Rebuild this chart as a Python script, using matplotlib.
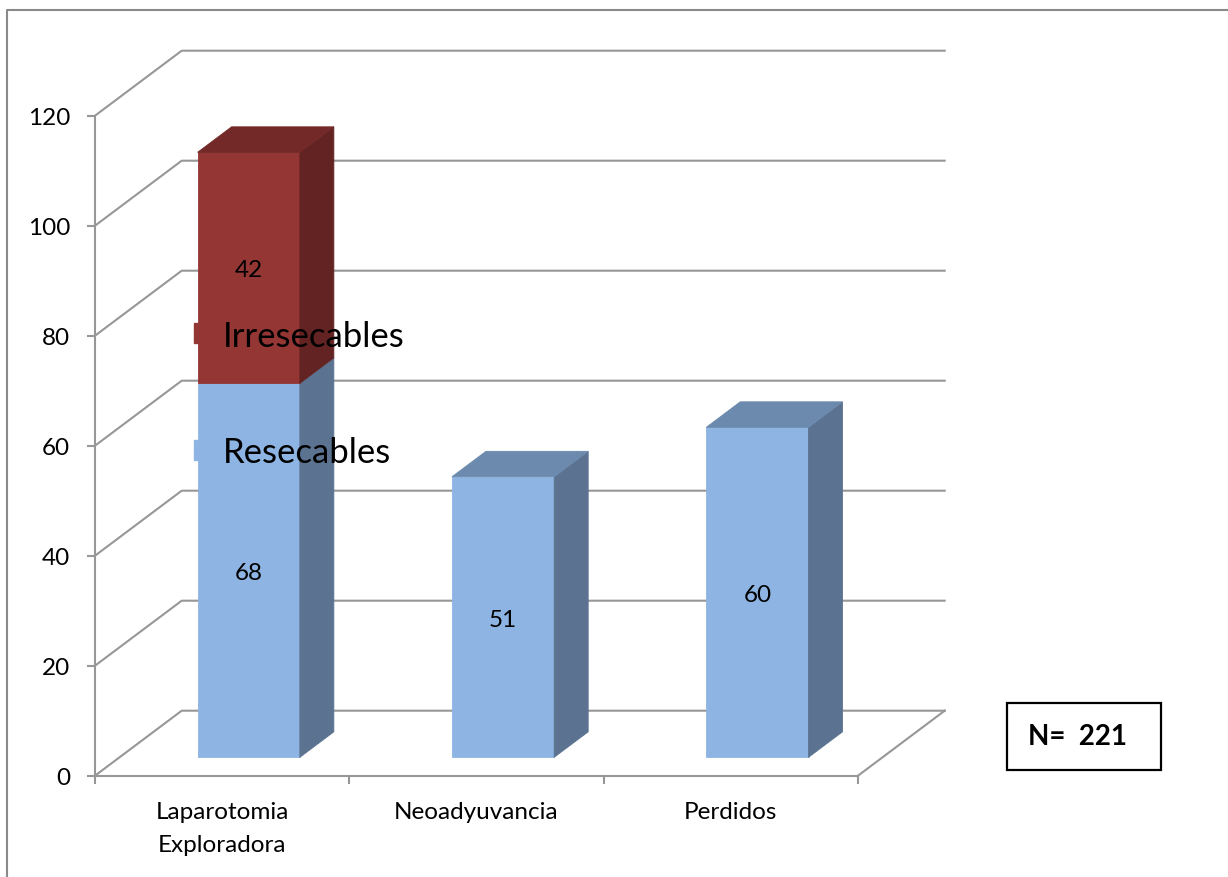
import matplotlib
matplotlib.use("Agg")
import matplotlib.pyplot as plt
from matplotlib.patches import Polygon, Rectangle
from matplotlib.lines import Line2D

# ---- data ----
categories = ["Laparotomia\nExploradora", "Neoadyuvancia", "Perdidos"]
series_names = ["Resecables", "Irresecables"]
resecables = [68, 51, 60]
irresecables = [42, 0, 0]
y_ticks = [0, 20, 40, 60, 80, 100, 120]
n_total = 221

# ---- style ----
plt.rcParams["font.family"] = ["Lato", "DejaVu Sans"]
GRID = "#979797"
FRONT = {"Resecables": "#8DB4E2", "Irresecables": "#943634"}
SIDE = {"Resecables": "#5B7391", "Irresecables": "#632323"}
TOP = {"Resecables": "#6C8AAE", "Irresecables": "#732927"}
LABEL_SIZE = 17.5

W, H = 1228, 878
fig = plt.figure(figsize=(W / 100, H / 100), dpi=100)
ax = fig.add_axes([95 / W, 1 - 776.7 / H, 763 / W, 660 / H])
ax.set_xlim(0, len(categories))
ax.set_ylim(y_ticks[0], y_ticks[-1])
ax.patch.set_visible(False)

# oblique projection for the depth direction (d in 0..1)
DX = 86.7 / 254.33
DV = 65 / 5.5


def proj(x, v, d):
    return x + DX * d, v + DV * d


def face(pts, color, z):
    ax.add_patch(Polygon([proj(*p) for p in pts], closed=True, facecolor=color,
                         edgecolor=color, lw=0.6, clip_on=False, zorder=z))


# walls: left-wall diagonals and back-wall gridlines
for v in y_ticks:
    xs, ys = zip(proj(0, v, 0), proj(0, v, 1), proj(len(categories), v, 1))
    ax.add_line(Line2D(xs, ys, color=GRID, lw=1.5, clip_on=False, zorder=1))
# right edge of the floor
xs, ys = zip(proj(len(categories), 0, 0), proj(len(categories), 0, 1))
ax.add_line(Line2D(xs, ys, color=GRID, lw=1.5, clip_on=False, zorder=1))

# axes lines
for s in ("top", "right"):
    ax.spines[s].set_visible(False)
for s in ("left", "bottom"):
    ax.spines[s].set_color(GRID)
    ax.spines[s].set_linewidth(1.5)

ax.set_yticks(y_ticks)
ax.tick_params(axis="y", direction="out", length=6, width=1.5, color=GRID,
               pad=12, labelsize=LABEL_SIZE)
ax.set_xticks(range(len(categories) + 1))
ax.set_xticklabels([])
ax.tick_params(axis="x", which="major", direction="out", length=6, width=1.5,
               color=GRID)
ax.set_xticks([i + 0.5 for i in range(len(categories))], minor=True)
ax.set_xticklabels(categories, minor=True, fontsize=LABEL_SIZE, linespacing=1.7)
ax.tick_params(axis="x", which="minor", length=0, pad=18)

# ---- 3D bars ----
BAR_W = 0.402
BAR_SHIFT = 0.008
D0, D1 = 0.283, 0.675
for i in range(len(categories)):
    xc = i + 0.5 + BAR_SHIFT
    xl, xr = xc - BAR_W / 2, xc + BAR_W / 2
    segs = [(name, vals[i]) for name, vals in
            zip(series_names, [resecables, irresecables]) if vals[i] > 0]
    base = 0
    for k, (name, val) in enumerate(segs):
        v0, v1 = base, base + val
        z = 2 + k * 0.1
        face([(xl, v0, D0), (xr, v0, D0), (xr, v1, D0), (xl, v1, D0)], FRONT[name], z)
        face([(xr, v0, D0), (xr, v0, D1), (xr, v1, D1), (xr, v1, D0)], SIDE[name], z)
        if k == len(segs) - 1:
            face([(xl, v1, D0), (xr, v1, D0), (xr, v1, D1), (xl, v1, D1)], TOP[name], z)
        tx, ty = proj(xc, (v0 + v1) / 2, D0)
        ax.text(tx, ty, str(val), ha="center", va="center_baseline",
                fontsize=LABEL_SIZE, zorder=5, clip_on=False)
        base = v1

# ---- legend ----
handles = [Line2D([], [], marker="s", ls="none", markersize=15,
                  markerfacecolor=FRONT[n], markeredgecolor=FRONT[n])
           for n in reversed(series_names)]
fig.legend(handles, list(reversed(series_names)), loc="center left",
           bbox_to_anchor=(186.6 / W, 1 - 395 / H), bbox_transform=fig.transFigure,
           frameon=False, fontsize=25, handlelength=1.0, handletextpad=0.05,
           labelspacing=2.44, borderpad=0, borderaxespad=0)

# ---- N box ----
fig.add_artist(Rectangle((1006.7 / W, 1 - 771 / H), (1161 - 1006.7) / W,
                         (771 - 704.3) / H, transform=fig.transFigure,
                         facecolor="white", edgecolor="black", lw=1.6))
fig.text(1028 / W, 1 - 737 / H, f"N=  {n_total}", ha="left", va="center",
         fontsize=20, fontweight="bold")

# ---- outer chart border ----
fig.add_artist(Line2D([6.7 / W, 6.7 / W, 1.0], [0.0, 1 - 10.7 / H, 1 - 10.7 / H],
                      transform=fig.transFigure, color="#8A8A8A", lw=1.5))

fig.savefig("out.png", dpi=100, facecolor="white")
